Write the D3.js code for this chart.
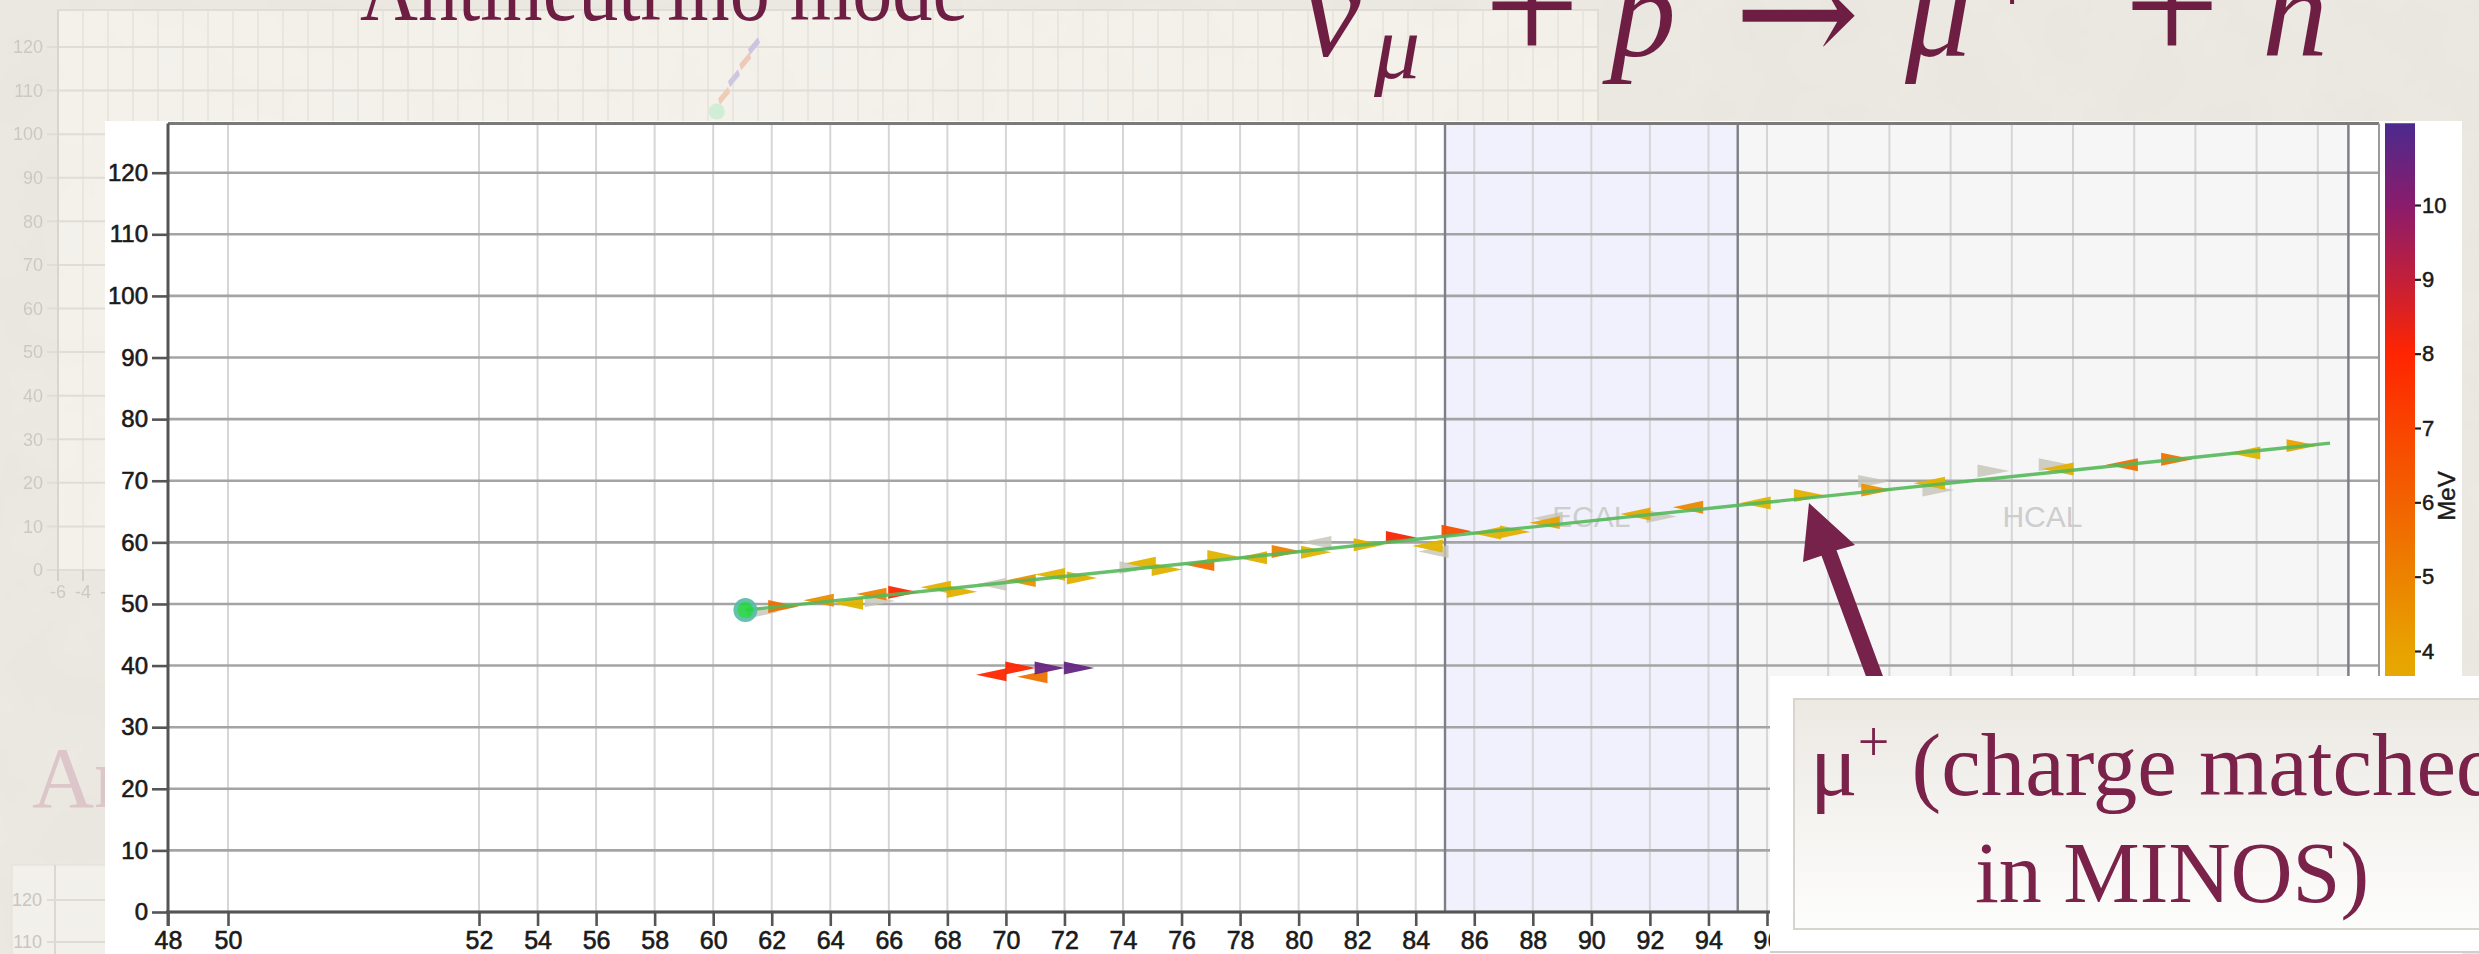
<!DOCTYPE html>
<html><head><meta charset="utf-8">
<script src="https://cdn.jsdelivr.net/npm/d3@7"></script>
<style>html,body{margin:0;padding:0;background:#EDEAE3;overflow:hidden}svg{display:block}</style>
</head><body><svg id="c" width="2479" height="954"></svg>
<script>
// ---------------- data ----------------
const yTicks = [0,10,20,30,40,50,60,70,80,90,100,110,120];
const xTicks = [48,50,52,54,56,58,60,62,64,66,68,70,72,74,76,78,80,82,84,86,88,90,92,94,96,98,100,102,104,106,108,110,112,114];
const xGridExtra = [115];
const ecalRange = [85, 95];
const hcalRange = [95, 115];
const regionLabels = [["ECAL", 90, 62.5], ["HCAL", 105, 62.5]];
const trackPath = [[61.1,49.0],[85,61.0],[96,66.5],[114.4,76.1]];
const vertex = [61.1, 49.0];
// [module, strip, direction, energy MeV (0 = faded other-view hit)]
const trackHits = [
 [61.7,48.7,1,0],[62.4,49.6,1,5.6],[63.6,50.6,-1,4.6],[64.6,50.1,-1,3.0],[65.4,51.6,-1,4.9],
 [65.7,50.5,1,0],[66.5,51.9,1,8.0],[67.6,52.7,-1,3.1],[68.5,52.0,1,3.3],[69.5,53.2,-1,0],
 [70.5,53.8,-1,4.5],[71.5,54.8,-1,3.0],[72.6,54.2,1,3.2],[74.4,55.9,1,0],[74.6,56.6,-1,3.0],
 [75.5,55.6,1,3.1],[76.6,56.4,-1,5.6],[77.4,57.7,1,3.0],[78.4,57.5,-1,3.3],[79.6,58.5,1,5.0],
 [80.6,60.0,-1,0],[80.6,58.4,1,3.0],[82.4,59.6,1,3.2],[83.5,60.8,1,8.1],[84.4,59.4,-1,3.0],
 [84.6,58.5,-1,0],[85.4,61.8,1,6.6],[86.4,61.5,-1,3.1],[87.4,61.7,1,3.2],[88.5,63.9,-1,0],
 [88.4,63.2,-1,4.0],[91.5,64.6,-1,3.8],[92.4,64.2,1,0],[93.3,65.7,-1,4.8],[95.6,66.4,-1,3.0],
 [97.4,67.6,1,3.2],[99.5,69.9,1,0],[99.6,68.5,1,4.5],[101.6,68.5,1,0],[101.3,69.6,-1,3.0],
 [103.4,71.6,1,0],[105.4,72.6,1,0],[105.5,71.9,-1,3.2],[107.6,72.6,-1,5.6],[109.4,73.5,1,5.5],
 [111.6,74.5,-1,3.0],[113.5,75.7,1,4.0]
];
const otherHits = [[69.5,38.5,-1,7.9],[70.5,39.6,1,8.0],[70.9,38.2,-1,5.5],[71.5,39.6,1,10.6],[72.5,39.6,1,10.7]];
const cbStops  = [0.5, 2, 3, 4, 5, 6, 7, 8, 9, 10, 11.1];
const cbColors = ['#D2CC00','#DCC200','#E2B400','#E8A200','#EC8200','#F26200','#F94400','#FF2500','#C21F3A','#8A1C6C','#4C2A8E'];
const cbTicks = [4,5,6,7,8,9,10];
const cbLabel = "MeV";
// faded slide background chart
const ghostYTicks = [0,10,20,30,40,50,60,70,80,90,100,110,120];
const ghostXGrid = d3.range(-6, 118, 2);
const ghostXLabels = [-6,-4,-2];
const ghostHits = [[49.6,120.0,'#c9c2e2'],[48.9,116.5,'#eec6b4'],[48.0,112.6,'#cdc3e0'],[47.2,108.6,'#efc9b2']];
const ghostVertex = [46.7,105.2];
const ghost2YTicks = [100,110,120];
const titleText = "Antineutrino mode";
const noteLines = ["(charge matched", "in MINOS)"];

// ---------------- drawing ----------------
const svg = d3.select('#c');
const defs = svg.append('defs');
const maroon = '#6E1D43';
const sans = 'Liberation Sans, Arial, Helvetica, sans-serif';
const serif = 'Liberation Serif, Times New Roman, DejaVu Serif, serif';

// paper texture
const f = defs.append('filter').attr('id','paper').attr('x',0).attr('y',0).attr('width','100%').attr('height','100%');
f.append('feTurbulence').attr('type','fractalNoise').attr('baseFrequency','0.015').attr('numOctaves',4).attr('seed',3);
f.append('feColorMatrix').attr('values','0 0 0 0 0.55  0 0 0 0 0.52  0 0 0 0 0.47  0 0 0 0.10 0');
svg.append('rect').attr('width',2479).attr('height',954).attr('fill','#EDEAE3');
svg.append('rect').attr('width',2479).attr('height',954).attr('filter','url(#paper)');

// ghost chart (top-left)
const gx = d3.scaleLinear().domain([-6, 117.2]).range([58, 1598]);
const gy = d3.scaleLinear().domain([0, 120]).range([570, 47]);
const ghost = svg.append('g').attr('opacity',0.9);
ghost.append('rect').attr('x',gx(-6)).attr('y',10).attr('width',gx(117.2)-gx(-6)).attr('height',560)
  .attr('fill','#F4F2EC').attr('stroke','#E0DCD4').attr('stroke-width',2);
ghost.selectAll('.gvx').data(ghostXGrid).join('line')
  .attr('x1',d=>gx(d)).attr('x2',d=>gx(d)).attr('y1',10).attr('y2',570)
  .attr('stroke','#E6E2DB').attr('stroke-width',1.5);
ghost.selectAll('.gvy').data(ghostYTicks).join('line')
  .attr('x1',47).attr('x2',gx(117.2)).attr('y1',d=>gy(d)).attr('y2',d=>gy(d))
  .attr('stroke','#E0DCD5').attr('stroke-width',2);
ghost.append('line').attr('x1',gx(-6)).attr('x2',gx(-6)).attr('y1',10).attr('y2',580).attr('stroke','#D8D4CC').attr('stroke-width',2);
ghost.selectAll('.gyl').data(ghostYTicks).join('text')
  .attr('x',43).attr('y',d=>gy(d)).attr('dy','0.35em').attr('text-anchor','end')
  .attr('font-family',sans).attr('font-size',18).attr('fill','#CAC6BE').text(d=>d);
ghost.selectAll('.gxt').data(ghostXLabels).join('line')
  .attr('x1',d=>gx(d)).attr('x2',d=>gx(d)).attr('y1',570).attr('y2',581).attr('stroke','#D2CEC6').attr('stroke-width',2);
ghost.selectAll('.gxl').data(ghostXLabels).join('text')
  .attr('x',d=>gx(d)).attr('y',598).attr('text-anchor','middle')
  .attr('font-family',sans).attr('font-size',18).attr('fill','#CAC6BE').text(d=>d);
ghost.selectAll('.gh').data(ghostHits).join('path')
  .attr('d',d=>{const cx=gx(d[0]),cy=gy(d[1]);return `M${cx-3},${cy+8}L${cx+7},${cy-4}L${cx+5},${cy-10}L${cx-5},${cy+2}Z`;})
  .attr('fill',d=>d[2]);
ghost.append('circle').attr('cx',gx(ghostVertex[0])).attr('cy',gy(ghostVertex[1])).attr('r',8).attr('fill','#CDEFD4');

// ghost faded title text
svg.append('text').attr('x',32).attr('y',807).attr('font-family',serif).attr('font-size',86)
  .attr('fill','#DCC6C9').text(titleText);

// ghost chart bottom-left
const g2y = d3.scaleLinear().domain([110,120]).range([942,900]);
const g2 = svg.append('g');
g2.append('rect').attr('x',12).attr('y',865).attr('width',300).attr('height',120).attr('fill','#F2F0EB').attr('stroke','#E4E0D9');
g2.append('line').attr('x1',55).attr('x2',55).attr('y1',865).attr('y2',954).attr('stroke','#DCD8D0').attr('stroke-width',2);
g2.selectAll('.l').data(ghost2YTicks).join('line').attr('x1',47).attr('x2',312).attr('y1',d=>g2y(d)).attr('y2',d=>g2y(d))
  .attr('stroke','#E0DCD5').attr('stroke-width',2);
g2.selectAll('.t').data(ghost2YTicks).join('text').attr('x',42).attr('y',d=>g2y(d)).attr('dy','0.35em').attr('text-anchor','end')
  .attr('font-family',sans).attr('font-size',18).attr('fill','#CAC6BE').text(d=>d);

// title + reaction
svg.append('text').attr('x',360).attr('y',20).attr('font-family',serif).attr('font-size',90).attr('fill',maroon)
  .attr('textLength',608).attr('lengthAdjust','spacingAndGlyphs').text(titleText);
const eq = svg.append('g').attr('fill',maroon).attr('font-family',serif);
eq.append('text').attr('x',1302).attr('y',56).attr('font-size',132).attr('font-style','italic').text('ν');
eq.append('text').attr('x',1374).attr('y',78).attr('font-size',92).attr('font-style','italic').text('μ');
eq.append('text').attr('x',1532).attr('y',62).attr('font-size',170).attr('text-anchor','middle').text('+');
eq.append('text').attr('x',1610).attr('y',56).attr('font-size',132).attr('font-style','italic').text('p');
eq.append('text').attr('x',1734).attr('y',64).attr('font-size',150).attr('font-family','DejaVu Serif, DejaVu Sans')
  .attr('textLength',126).attr('lengthAdjust','spacingAndGlyphs').text('→');
eq.append('text').attr('x',1905).attr('y',56).attr('font-size',132).attr('font-style','italic').text('μ');
eq.append('text').attr('x',2012).attr('y',12).attr('font-size',80).attr('text-anchor','middle').text('+');
eq.append('text').attr('x',2172).attr('y',62).attr('font-size',170).attr('text-anchor','middle').text('+');
eq.append('text').attr('x',2262).attr('y',56).attr('font-size',132).attr('font-style','italic').text('n');

// white panel
svg.append('rect').attr('x',105).attr('y',121).attr('width',2462-105).attr('height',954-121).attr('fill','#ffffff');

// scales
const x = d3.scaleLinear().domain([48,50,52,96,116]).range([168,228,479,1767,2379]);
const y = d3.scaleLinear().domain([0,120]).range([912,172.7]);
const yTop = y(128);
const cb = d3.scaleLinear().domain([4,10]).range([651,205]);
const eColor = d3.scaleLinear().domain(cbStops).range(cbColors).clamp(true);

const plot = svg.append('g');
// detector regions
plot.append('rect').attr('x',x(ecalRange[0])).attr('y',yTop).attr('width',x(ecalRange[1])-x(ecalRange[0])).attr('height',y(0)-yTop).attr('fill','#F1F1FD');
plot.append('rect').attr('x',x(hcalRange[0])).attr('y',yTop).attr('width',x(hcalRange[1])-x(hcalRange[0])).attr('height',y(0)-yTop).attr('fill','#F6F6F6');
// vertical grid
plot.selectAll('.vg').data(xTicks.filter(d=>d>48).concat(xGridExtra)).join('line')
  .attr('x1',d=>x(d)).attr('x2',d=>x(d)).attr('y1',yTop).attr('y2',y(0))
  .attr('stroke','#D6D6D8').attr('stroke-width',2);
// horizontal grid
plot.selectAll('.hg').data(yTicks).join('line')
  .attr('x1',x(48)).attr('x2',x(116)).attr('y1',d=>y(d)).attr('y2',d=>y(d))
  .attr('stroke','#A4A4A4').attr('stroke-width',2.6);
// region borders
plot.selectAll('.rb').data([ecalRange[0], ecalRange[1], hcalRange[1]]).join('line')
  .attr('x1',d=>x(d)).attr('x2',d=>x(d)).attr('y1',yTop).attr('y2',y(0))
  .attr('stroke','#7E7E86').attr('stroke-width',2.4);
// frame
plot.append('line').attr('x1',x(48)).attr('x2',x(116)).attr('y1',yTop).attr('y2',yTop).attr('stroke','#7A7A7A').attr('stroke-width',3);
plot.append('line').attr('x1',x(116)).attr('x2',x(116)).attr('y1',yTop).attr('y2',y(0)).attr('stroke','#9A9A9A').attr('stroke-width',2);
// region labels
plot.selectAll('.rl').data(regionLabels).join('text')
  .attr('x',d=>x(d[1])).attr('y',d=>y(d[2])).attr('text-anchor','middle')
  .attr('font-family',sans).attr('font-size',30).attr('fill','#CDCDCD').text(d=>d[0]);

// axes
const yAxis = d3.axisLeft(y).tickValues(yTicks).tickSize(16).tickPadding(4);
const ya = plot.append('g').attr('transform',`translate(${x(48)},0)`).call(yAxis);
ya.select('.domain').remove();
ya.selectAll('line').attr('stroke','#555').attr('stroke-width',2.6);
ya.selectAll('text').attr('font-family',sans).attr('font-size',24).attr('fill','#1a1a1a').attr('stroke','#1a1a1a').attr('stroke-width',0.6);
plot.append('line').attr('x1',x(48)).attr('x2',x(48)).attr('y1',yTop).attr('y2',y(0)+14).attr('stroke','#555').attr('stroke-width',3);

const xAxis = d3.axisBottom(x).tickValues(xTicks).tickSize(14).tickPadding(5).tickFormat(d3.format('d'));
const xa = plot.append('g').attr('transform',`translate(0,${y(0)})`).call(xAxis);
xa.select('.domain').remove();
xa.selectAll('line').attr('stroke','#555').attr('stroke-width',2.6);
xa.selectAll('text').attr('font-family',sans).attr('font-size',25).attr('fill','#1a1a1a').attr('stroke','#1a1a1a').attr('stroke-width',0.6);
plot.append('line').attr('x1',x(48)-2).attr('x2',x(116)).attr('y1',y(0)).attr('y2',y(0)).attr('stroke','#555').attr('stroke-width',3);

// hits
const tri = d => {
  const [hx,hy,dir] = d;
  const x0 = x(hx-0.52), x1 = x(hx+0.52), yt = y(hy+1.05), yb = y(hy-1.05), ym = y(hy);
  return dir > 0 ? `M${x0},${yt}L${x0},${yb}L${x1},${ym}Z` : `M${x1},${yt}L${x1},${yb}L${x0},${ym}Z`;
};
const hitsG = plot.append('g');
hitsG.selectAll('.gh').data(trackHits.filter(d=>d[3]===0)).join('path')
  .attr('d',tri).attr('fill','#C6C4B8').attr('opacity',0.8);
hitsG.selectAll('.ch').data(trackHits.filter(d=>d[3]>0).concat(otherHits)).join('path')
  .attr('d',tri).attr('fill',d=>eColor(d[3])).attr('opacity',0.95);
// track
plot.append('path').datum(trackPath)
  .attr('d',d3.line().x(d=>x(d[0])).y(d=>y(d[1])))
  .attr('fill','none').attr('stroke','#55B85A').attr('stroke-width',3.4).attr('opacity',0.9);
plot.append('circle').attr('cx',x(vertex[0])).attr('cy',y(vertex[1])).attr('r',10)
  .attr('fill','#25D444').attr('stroke','#58BBA8').attr('stroke-width',4).attr('opacity',0.92);

// colour bar (stops ordered top -> bottom)
const grad = defs.append('linearGradient').attr('id','cbg').attr('x1',0).attr('y1',0).attr('x2',0).attr('y2',1);
const cbT = cb(cbStops[cbStops.length-1]), cbB = cb(cbStops[0]);
const stopPairs = cbStops.map((e,i)=>[e, cbColors[i]]).reverse();
stopPairs.forEach(([e,c])=>grad.append('stop').attr('offset',(cb(e)-cbT)/(cbB-cbT)).attr('stop-color',c));
svg.append('rect').attr('x',2385).attr('y',cbT).attr('width',30).attr('height',cbB-cbT).attr('fill','url(#cbg)');
const cbAxis = d3.axisRight(cb).tickValues(cbTicks).tickSize(6).tickPadding(1).tickFormat(d3.format('d'));
const ca = svg.append('g').attr('transform','translate(2415,0)').call(cbAxis);
ca.select('.domain').remove();
ca.selectAll('line').attr('stroke','#222').attr('stroke-width',2.2);
ca.selectAll('text').attr('font-family',sans).attr('font-size',22).attr('fill','#1a1a1a').attr('stroke','#1a1a1a').attr('stroke-width',0.5);
svg.append('text').attr('transform','translate(2455,496) rotate(-90)').attr('text-anchor','middle')
  .attr('font-family',sans).attr('font-size',24).attr('fill','#1a1a1a').attr('stroke','#1a1a1a').attr('stroke-width',0.4).text(cbLabel);

// arrow
svg.append('path').attr('d','M1809,503 L1855,545 L1836.5,550.2 L1888.5,691.2 L1873.5,696.8 L1821.5,555.8 L1803,562 Z').attr('fill','#76224A');

// annotation box
svg.append('rect').attr('x',1770).attr('y',676).attr('width',800).attr('height',276).attr('fill','#ffffff');
svg.append('line').attr('x1',1770).attr('x2',2479).attr('y1',952).attr('y2',952).attr('stroke','#CFCFCF').attr('stroke-width',2);
const bg = defs.append('linearGradient').attr('id','boxg').attr('x1',0).attr('y1',0).attr('x2',0).attr('y2',1);
bg.append('stop').attr('offset',0).attr('stop-color','#ECE9E3');
bg.append('stop').attr('offset',1).attr('stop-color','#FDFDFC');
svg.append('rect').attr('x',1794).attr('y',699).attr('width',800).attr('height',230).attr('fill','url(#boxg)').attr('stroke','#D8D5CE').attr('stroke-width',2);
const t1 = svg.append('text').attr('x',1810).attr('y',795).attr('text-anchor','start')
  .attr('font-family',serif).attr('font-size',89).attr('fill','#7A2249');
t1.append('tspan').text('μ');
t1.append('tspan').attr('font-size',56).attr('dy',-34).text('+');
t1.append('tspan').attr('dy',34).text(' ' + noteLines[0]);
svg.append('text').attr('x',2172).attr('y',902).attr('text-anchor','middle')
  .attr('font-family',serif).attr('font-size',86).attr('fill','#7A2249').text(noteLines[1]);
</script></body></html>
